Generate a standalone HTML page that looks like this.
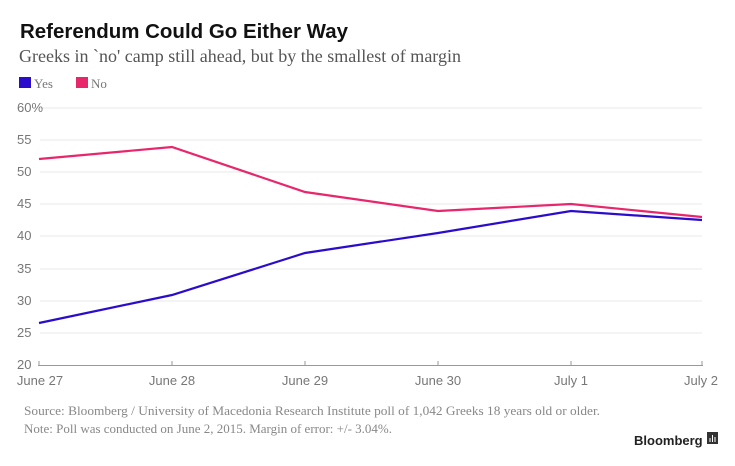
<!DOCTYPE html>
<html><head><meta charset="utf-8"><style>
html,body{margin:0;padding:0;background:#fff;}
body{width:735px;height:461px;overflow:hidden;position:relative;}
</style></head><body>
<svg width="735" height="461" xmlns="http://www.w3.org/2000/svg">
<text x="20" y="38" font-family="Liberation Sans, sans-serif" font-weight="bold" font-size="20" fill="#111" textLength="328" lengthAdjust="spacingAndGlyphs">Referendum Could Go Either Way</text>
<text x="19" y="62" font-family="Liberation Serif, serif" font-size="17.5" fill="#555" textLength="442" lengthAdjust="spacingAndGlyphs">Greeks in `no' camp still ahead, but by the smallest of margin</text>
<rect x="19" y="77" width="12" height="11" fill="#2b0ccc"/>
<text x="34" y="88" font-family="Liberation Serif, serif" font-size="13" fill="#777">Yes</text>
<rect x="76" y="77" width="12" height="11" fill="#e8266b"/>
<text x="91" y="88" font-family="Liberation Serif, serif" font-size="13" fill="#777">No</text>
<g stroke="#e8e8e8" stroke-width="1">
<line x1="40" x2="702" y1="108" y2="108"/><line x1="40" x2="702" y1="140" y2="140"/>
<line x1="40" x2="702" y1="172" y2="172"/><line x1="40" x2="702" y1="204" y2="204"/>
<line x1="40" x2="702" y1="236" y2="236"/><line x1="40" x2="702" y1="269" y2="269"/>
<line x1="40" x2="702" y1="301" y2="301"/><line x1="40" x2="702" y1="333" y2="333"/>
</g>
<g font-family="Liberation Sans, sans-serif" font-size="13" fill="#777">
<text x="17" y="112">60%</text><text x="17" y="144">55</text><text x="17" y="176">50</text>
<text x="17" y="208">45</text><text x="17" y="240">40</text><text x="17" y="273">35</text>
<text x="17" y="305">30</text><text x="17" y="337">25</text><text x="17" y="369">20</text>
</g>
<line x1="38" x2="703" y1="365.5" y2="365.5" stroke="#999" stroke-width="1"/>
<g stroke="#999"><line x1="39" x2="39" y1="361" y2="366"/><line x1="172" x2="172" y1="361" y2="366"/><line x1="305" x2="305" y1="361" y2="366"/><line x1="438" x2="438" y1="361" y2="366"/><line x1="571" x2="571" y1="361" y2="366"/><line x1="702" x2="702" y1="361" y2="366"/></g>
<g font-family="Liberation Sans, sans-serif" font-size="13" fill="#777" text-anchor="middle">
<text x="40" y="385">June 27</text><text x="172" y="385">June 28</text><text x="305" y="385">June 29</text>
<text x="438" y="385">June 30</text><text x="571" y="385">July 1</text><text x="701" y="385">July 2</text>
</g>
<polyline fill="none" stroke="#e8266b" stroke-width="2.2" points="39,159 172,147 305,192 438,211 571,204 702,217"/>
<polyline fill="none" stroke="#2b0ccc" stroke-width="2.2" points="39,323 172,295 305,253 438,233 571,211 702,220"/>
<g font-family="Liberation Serif, serif" font-size="12.5" fill="#888">
<text x="24" y="415" textLength="576" lengthAdjust="spacingAndGlyphs">Source: Bloomberg / University of Macedonia Research Institute poll of 1,042 Greeks 18 years old or older.</text>
<text x="24" y="433" textLength="368" lengthAdjust="spacingAndGlyphs">Note: Poll was conducted on June 2, 2015. Margin of error: +/- 3.04%.</text>
</g>
<text x="634" y="445" font-family="Liberation Sans, sans-serif" font-weight="bold" font-size="13" fill="#222">Bloomberg</text>
<rect x="707" y="432" width="11" height="12" fill="#333"/>
<g stroke="#fff" stroke-width="1"><line x1="710" x2="710" y1="438" y2="442"/><line x1="712.5" x2="712.5" y1="435" y2="442"/><line x1="715" x2="715" y1="437" y2="442"/></g>
</svg>
</body></html>
